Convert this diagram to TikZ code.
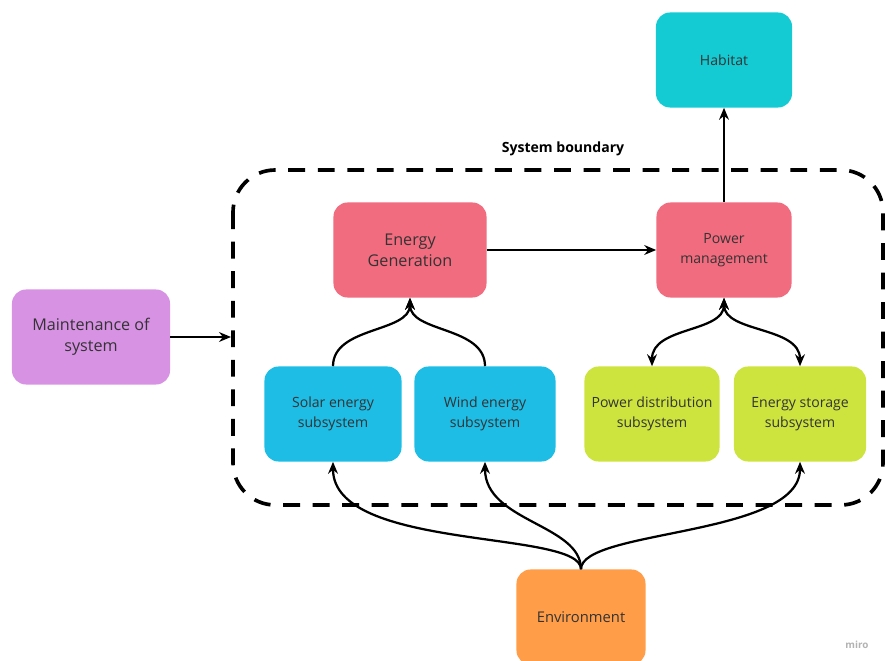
\documentclass[tikz,border=0pt]{standalone}
\usepackage{fontspec}
\setmainfont{Open Sans}
\usepackage{xcolor}
\usepackage{tikz}
\usetikzlibrary{arrows.meta,positioning,shapes,calc}

\definecolor{genpink}{RGB}{241,108,127}
\definecolor{subblue}{RGB}{29,189,230}
\definecolor{sublime}{RGB}{206,228,62}
\definecolor{envorange}{RGB}{255,157,72}
\definecolor{maintpurple}{RGB}{216,146,228}
\definecolor{habteal}{RGB}{20,203,212}

\begin{document}
\begin{tikzpicture}[x=0.025cm, y=-0.025cm,
  box/.style={rounded corners=10pt, minimum height=2.375cm, align=center,
    text=black!80, font=\fontsize{10}{14}\selectfont},
  conn/.style={line width=1.6pt, -{Stealth[length=8.5pt, width=7pt]}},
  twoway/.style={line width=1.6pt, {Stealth[length=8.5pt, width=7pt]}-{Stealth[length=8.5pt, width=7pt]}}]

% canvas
\useasboundingbox (0,0) rectangle (885,661);

% System boundary
\draw[line width=2.6pt, dash pattern=on 12pt off 9pt, rounded corners=30pt]
  (233,170) rectangle (883,505);
\node[font=\bfseries\fontsize{10}{12}\selectfont] (sysb) at (563,149) {System boundary};

% Top row
\node[box, fill=habteal, minimum width=3.4cm] (hab) at (724,60) {Habitat};
\node[box, fill=genpink, minimum width=3.825cm, font=\fontsize{11.5}{15}\selectfont] (egen) at (410,250) {Energy\\Generation};
\node[box, fill=genpink, minimum width=3.375cm] (pm) at (724,250) {Power\\management};

% Outside inputs
\node[box, fill=maintpurple, minimum width=3.95cm, font=\fontsize{11.5}{15}\selectfont] (maint) at (91,337) {Maintenance of\\system};
\node[box, fill=envorange, minimum width=3.225cm, font=\fontsize{10.5}{13}\selectfont] (env) at (581,617) {Environment};

% Subsystems
\node[box, fill=subblue, minimum width=3.425cm] (solar) at (333,414) {Solar energy\\subsystem};
\node[box, fill=subblue, minimum width=3.525cm] (wind) at (485,414) {Wind energy\\subsystem};
\node[box, fill=sublime, minimum width=3.375cm] (pdist) at (652,414) {Power distribution\\subsystem};
\node[box, fill=sublime, minimum width=3.3cm] (store) at (800,414) {Energy storage\\subsystem};

% Connectors
\coordinate (bleft) at (231,337);
\draw[conn] (maint.east) -- (bleft);
\draw[conn] (egen.east) -- (pm.west);
\draw[conn] (pm.north) -- (hab.south);

\draw[conn] (solar.north) .. controls +(0,-40) and +(0,35) .. (egen.south);
\draw[conn] (wind.north) .. controls +(0,-40) and +(0,35) .. (egen.south);

\draw[twoway] (pm.south) .. controls +(0,35) and +(0,-40) .. (pdist.north);
\draw[twoway] (pm.south) .. controls +(0,35) and +(0,-40) .. (store.north);

\draw[conn] (env.north) .. controls +(0,-40) and +(0,90) .. (solar.south);
\draw[conn] (env.north) .. controls +(0,-45) and +(0,60) .. (wind.south);
\draw[conn] (env.north) .. controls +(0,-40) and +(0,75) .. (store.south);

% watermark
\node[text=black!30, font=\bfseries\fontsize{7}{8}\selectfont] (miro) at (857,645) {miro};

\end{tikzpicture}
\end{document}
